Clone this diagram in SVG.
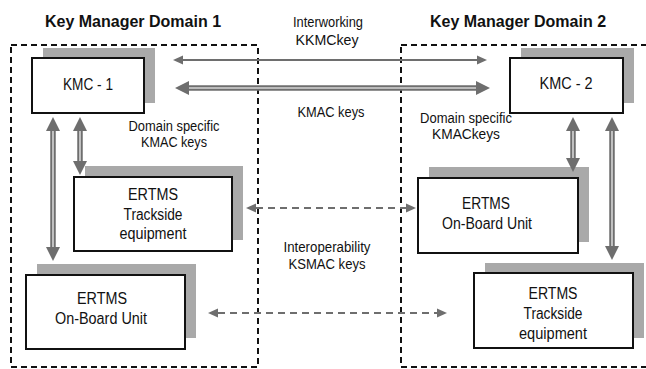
<svg xmlns="http://www.w3.org/2000/svg" width="646" height="369" viewBox="0 0 646 369">
<style>
text{font-family:"Liberation Sans",Arial,sans-serif;fill:#111;text-anchor:middle}
.title{font-size:16px;font-weight:bold}
.lbl{font-size:14px}
.nt{font-size:16px}
.dom{fill:none;stroke:#111;stroke-width:2;stroke-dasharray:6 4}
.sh{fill:#a9a9a9}
.bx{fill:#fff;stroke:#111;stroke-width:2}
.thin{stroke:#6e6e6e;stroke-width:2;fill:none}
.dbl{stroke:#6e6e6e;stroke-width:5.5;fill:none}
.inner{stroke:#d6d6d6;stroke-width:1.6;fill:none}
.dash{stroke:#6e6e6e;stroke-width:2;fill:none;stroke-dasharray:7 5}
</style>
<defs>
<marker id="hs" markerUnits="userSpaceOnUse" markerWidth="10" markerHeight="10" viewBox="0 0 10 10" refX="0" refY="5" orient="auto-start-reverse"><path d="M0,0.5 L10,5 L0,9.5 Z" fill="#6e6e6e"/></marker>
<marker id="hb" markerUnits="userSpaceOnUse" markerWidth="14" markerHeight="14" viewBox="0 0 14 14" refX="0" refY="7" orient="auto-start-reverse"><path d="M0,0 L14,7 L0,14 Z" fill="#6e6e6e"/></marker>
</defs>

<g id="domain1">
<rect class="dom" x="11" y="45" width="247" height="322"/>
<text class="title" x="133" y="27">Key Manager Domain 1</text>
</g>
<g id="domain2">
<rect class="dom" x="401" y="45" width="252" height="322"/>
<text class="title" x="518" y="27">Key Manager Domain 2</text>
</g>

<g id="kmc1">
<rect class="sh" x="43" y="48" width="112" height="55"/>
<rect class="bx" x="32" y="58" width="112" height="55"/>
<text class="nt" x="88" y="90" textLength="50" lengthAdjust="spacingAndGlyphs">KMC - 1</text>
</g>
<g id="kmc2">
<rect class="sh" x="521" y="48" width="113" height="55"/>
<rect class="bx" x="510" y="58" width="113" height="55"/>
<text class="nt" x="566" y="89" textLength="53" lengthAdjust="spacingAndGlyphs">KMC - 2</text>
</g>
<g id="trackside1">
<rect class="sh" x="85" y="166" width="158" height="74"/>
<rect class="bx" x="74" y="177" width="158" height="74"/>
<text class="nt" x="153" y="199.5" textLength="50" lengthAdjust="spacingAndGlyphs">ERTMS</text>
<text class="nt" x="153" y="219.5" textLength="59" lengthAdjust="spacingAndGlyphs">Trackside</text>
<text class="nt" x="153" y="238.5" textLength="67" lengthAdjust="spacingAndGlyphs">equipment</text>
</g>
<g id="obu1">
<rect class="sh" x="37" y="264" width="159" height="74"/>
<rect class="bx" x="26" y="275" width="159" height="74"/>
<text class="nt" x="102" y="303.5" textLength="50" lengthAdjust="spacingAndGlyphs">ERTMS</text>
<text class="nt" x="101" y="323.5" textLength="92" lengthAdjust="spacingAndGlyphs">On-Board Unit</text>
</g>
<g id="obu2">
<rect class="sh" x="429" y="167" width="160" height="75"/>
<rect class="bx" x="418" y="178" width="160" height="75"/>
<text class="nt" x="486" y="209" textLength="48" lengthAdjust="spacingAndGlyphs">ERTMS</text>
<text class="nt" x="487" y="228.5" textLength="90" lengthAdjust="spacingAndGlyphs">On-Board Unit</text>
</g>
<g id="trackside2">
<rect class="sh" x="485" y="263" width="159" height="75"/>
<rect class="bx" x="474" y="273" width="159" height="75"/>
<text class="nt" x="553" y="298.5" textLength="49" lengthAdjust="spacingAndGlyphs">ERTMS</text>
<text class="nt" x="553" y="318.5" textLength="59" lengthAdjust="spacingAndGlyphs">Trackside</text>
<text class="nt" x="553" y="338.5" textLength="68" lengthAdjust="spacingAndGlyphs">equipment</text>
</g>

<g id="connectors">
<path class="thin" d="M183,60 H477" marker-start="url(#hs)" marker-end="url(#hs)"/>
<path class="dbl" d="M189,88 H476" marker-start="url(#hb)" marker-end="url(#hb)"/>
<path class="inner" d="M189,88 H476"/>
<path class="dbl" d="M53,131 V247" marker-start="url(#hb)" marker-end="url(#hb)"/>
<path class="inner" d="M53,131 V247"/>
<path class="dbl" d="M80,131 V161" marker-start="url(#hb)" marker-end="url(#hb)"/>
<path class="inner" d="M80,131 V161"/>
<path class="dbl" d="M573,131 V158" marker-start="url(#hb)" marker-end="url(#hb)"/>
<path class="inner" d="M573,131 V158"/>
<path class="dbl" d="M612,131 V246" marker-start="url(#hb)" marker-end="url(#hb)"/>
<path class="inner" d="M612,131 V246"/>
<path class="dash" d="M256,208 H406" marker-start="url(#hs)" marker-end="url(#hs)"/>
<path class="dash" d="M218,313 H437" marker-start="url(#hs)" marker-end="url(#hs)"/>
<text class="lbl" x="328" y="26.5" textLength="70" lengthAdjust="spacingAndGlyphs">Interworking</text>
<text class="lbl" x="327" y="44.5" textLength="63" lengthAdjust="spacingAndGlyphs">KKMCkey</text>
<text class="lbl" x="331" y="117" textLength="67" lengthAdjust="spacingAndGlyphs">KMAC keys</text>
<text class="lbl" x="174" y="130.5" textLength="91" lengthAdjust="spacingAndGlyphs">Domain specific</text>
<text class="lbl" x="174" y="146.5" textLength="66" lengthAdjust="spacingAndGlyphs">KMAC keys</text>
<text class="lbl" x="466" y="122.5" textLength="92" lengthAdjust="spacingAndGlyphs">Domain specific</text>
<text class="lbl" x="466" y="138.5" textLength="68" lengthAdjust="spacingAndGlyphs">KMACkeys</text>
<text class="lbl" x="327" y="251.5" textLength="87" lengthAdjust="spacingAndGlyphs">Interoperability</text>
<text class="lbl" x="327" y="269" textLength="77" lengthAdjust="spacingAndGlyphs">KSMAC keys</text>
</g>
</svg>
